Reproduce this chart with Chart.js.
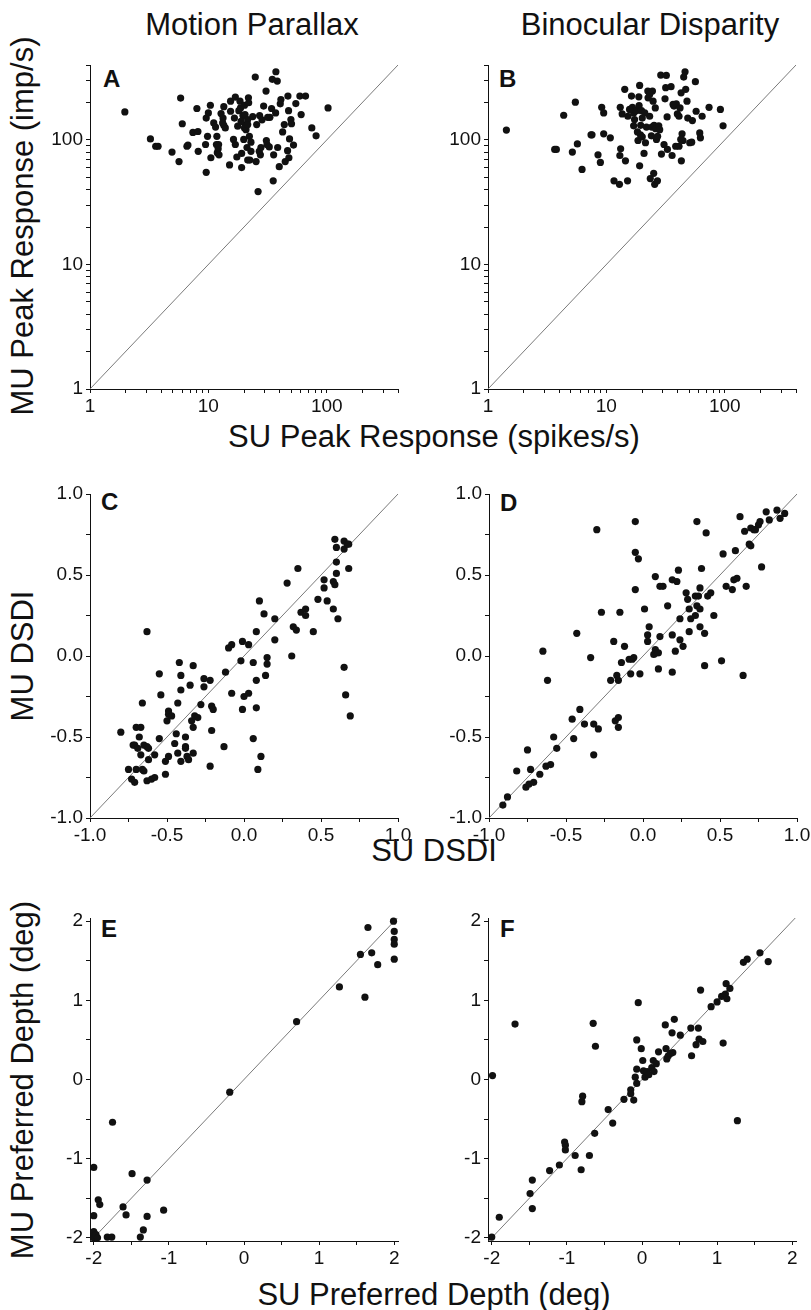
<!DOCTYPE html>
<html>
<head>
<meta charset="utf-8">
<script src="https://cdn.jsdelivr.net/npm/chart.js@4.4.0/dist/chart.umd.min.js"></script>
<style>
  body { margin: 0; background: #fff; width: 811px; height: 1310px; position: relative; overflow: hidden;
         font-family: 'Liberation Sans', Arial, Helvetica, sans-serif; color: #111; }
  canvas { position: absolute; }
  .lbl { position: absolute; white-space: nowrap; line-height: 1; font-size: 31px; transform: translate(-50%, -50%); }
  .rot { transform: translate(-50%, -50%) rotate(-90deg); }
  .letter { position: absolute; font-size: 24px; font-weight: bold; line-height: 1; }
</style>
</head>
<body>

<div class="lbl" style="left:252px;top:24px">Motion Parallax</div>
<div class="lbl" style="left:650px;top:24px">Binocular Disparity</div>

<div class="lbl rot" style="left:22px;top:226px">MU Peak Response (imp/s)</div>
<div class="lbl rot" style="left:22px;top:656px">MU DSDI</div>
<div class="lbl rot" style="left:22px;top:1080px">MU Preferred Depth (deg)</div>

<div class="lbl" style="left:434px;top:436px">SU Peak Response (spikes/s)</div>
<div class="lbl" style="left:434px;top:850px">SU DSDI</div>
<div class="lbl" style="left:434px;top:1294px">SU Preferred Depth (deg)</div>

<div class="letter" style="left:103px;top:67px">A</div>
<div class="letter" style="left:499px;top:67px">B</div>
<div class="letter" style="left:101px;top:490px">C</div>
<div class="letter" style="left:500px;top:491px">D</div>
<div class="letter" style="left:101px;top:917px">E</div>
<div class="letter" style="left:500px;top:917px">F</div>

<script>
/* ── Data: [SU, MU] pairs ── */

// A – motion parallax, peak response
const mpPeak = [
  [1.97,168],[3.24,102],[3.59,89],[3.76,89],[4.93,80],[5.65,67],[5.83,217],[6.02,135],[6.59,89],[6.72,91],
  [7.4,115],[8.0,179],[8.16,117],[8.21,81],[9.47,92],[9.59,55],[9.84,107],[9.59,150],[10.4,190],[10.5,72],
  [10.0,165],[11.1,137],[11.5,127],[11.7,92],[11.8,107],[11.9,79],[12.1,85],[12.2,92],[12.8,163],[13.3,150],
  [13.5,185],[13.5,131],[13.9,125],[15.1,63],[15.4,205],[15.4,170],[16.3,101],[16.6,150],[16.9,221],[16.9,92],
  [17.4,73],[17.7,129],[18.1,172],[18.5,205],[18.7,181],[19.1,78],[19.1,60],[19.6,157],[19.9,101],[20.2,190],
  [20.4,160],[20.5,132],[20.8,121],[21.2,87],[21.5,69],[21.5,146],[21.8,218],[21.9,199],[22.2,107],[22.4,69],
  [22.9,96],[23.7,154],[24.9,320],[25.3,67],[25.6,133],[26.3,38.5],[27.1,157],[27.5,76],[27.8,87],[28.4,145],
  [29.3,187],[30.7,247],[30.9,99],[31.3,92],[32.7,88],[33.1,152],[34.2,179],[34.7,307],[35.3,47],[35.6,76],
  [37.0,165],[37.2,353],[38.2,297],[38.5,87],[39.7,61],[40.5,195],[41.0,211],[42.4,116],[43.8,133],[44.6,67],
  [46.7,82],[47.0,225],[47.6,172],[47.9,72],[48.5,102],[49.8,146],[50.4,135],[52.4,91],[54.8,196],[59.3,225],
  [60.8,160],[66.2,225],[74.8,125],[81.3,108],[102.6,181],[18.9,141],[20.8,129],[12.3,76],[13.2,137],[22.9,81],
  [20.2,125],[21.5,133],[26.9,81],[31.7,152]
];

// B – binocular disparity, peak response
const bdPeak = [
  [1.43,120],[3.66,84],[3.78,84],[4.36,158],[5.16,80],[5.47,201],[5.69,93],[6.23,58],[7.42,110],[7.56,110],
  [8.5,76],[8.9,66],[9.13,183],[9.49,165],[9.49,112],[10.8,104],[11.6,47],[12.9,44],[13.1,183],[13.2,85],
  [13.0,75],[13.6,162],[14.3,255],[14.5,68],[15.1,47],[15.2,155],[16.3,225],[16.6,183],[17.0,165],[17.0,130],
  [17.9,172],[18.3,116],[18.5,99],[18.8,222],[18.9,189],[19.1,274],[19.1,62],[19.4,110],[19.5,131],[19.8,172],
  [20.1,150],[20.1,106],[20.8,78],[21.4,95],[21.8,127],[22.4,247],[22.5,218],[23.2,155],[23.5,49],[24.0,108],
  [24.2,127],[24.5,247],[24.8,205],[25.1,54],[25.3,131],[25.6,44],[25.9,181],[26.1,123],[26.5,101],[27.0,47],
  [27.1,107],[27.7,130],[28.8,332],[29.2,77],[30.7,92],[31.3,214],[31.7,263],[32.1,330],[32.6,153],[32.8,84],
  [35.2,268],[35.9,75],[37.3,187],[38.5,89],[39.0,195],[39.8,162],[41.1,89],[41.9,181],[42.8,239],[43.0,68],
  [43.6,112],[44.4,99],[45.0,320],[46.2,353],[46.8,255],[48.0,205],[48.7,150],[50.6,95],[52.6,96],[53.3,143],
  [56.5,294],[57.3,170],[61.5,114],[62.3,104],[64.4,155],[73.7,183],[91.9,176],[96.8,130],[41.1,155],[15.7,176],
  [17.3,146],[23.2,232],[28.2,121],[21.1,165],[42.5,101],[36.6,193]
];

// C – motion parallax, DSDI
const mpDsdi = [
  [-0.80,-0.47],[-0.75,-0.70],[-0.73,-0.76],[-0.71,-0.78],[-0.72,-0.55],[-0.71,-0.55],[-0.70,-0.70],[-0.70,-0.44],
  [-0.68,-0.50],[-0.69,-0.57],[-0.67,-0.44],[-0.67,-0.61],[-0.66,-0.70],[-0.65,-0.71],[-0.66,-0.29],[-0.65,-0.55],
  [-0.63,-0.56],[-0.62,-0.57],[-0.63,0.15],[-0.63,-0.77],[-0.62,-0.64],[-0.60,-0.76],[-0.58,-0.61],[-0.58,-0.75],
  [-0.55,-0.51],[-0.55,-0.11],[-0.54,-0.24],[-0.51,-0.73],[-0.51,-0.65],[-0.50,-0.40],[-0.49,-0.34],[-0.49,-0.62],
  [-0.49,-0.36],[-0.47,-0.37],[-0.45,-0.54],[-0.44,-0.48],[-0.43,-0.29],[-0.43,-0.60],[-0.42,-0.04],[-0.41,-0.21],
  [-0.41,-0.12],[-0.41,-0.65],[-0.38,-0.56],[-0.38,-0.50],[-0.38,-0.57],[-0.37,-0.62],[-0.36,-0.64],[-0.35,-0.18],
  [-0.34,-0.40],[-0.33,-0.44],[-0.33,-0.06],[-0.33,-0.60],[-0.32,-0.37],[-0.30,-0.38],[-0.28,-0.30],[-0.26,-0.19],
  [-0.26,-0.14],[-0.22,-0.68],[-0.22,-0.15],[-0.21,-0.46],[-0.21,-0.31],[-0.20,-0.33],[-0.13,-0.56],[-0.12,-0.10],
  [-0.10,0.05],[-0.08,0.07],[-0.08,-0.23],[-0.02,-0.03],[-0.01,0.09],[-0.01,-0.33],[0.00,-0.25],[0.03,0.07],
  [0.03,-0.23],[0.06,-0.51],[0.06,-0.04],[0.08,-0.32],[0.08,0.15],[0.08,-0.15],[0.09,-0.70],[0.10,0.34],
  [0.11,-0.62],[0.13,0.26],[0.14,-0.12],[0.15,-0.01],[0.15,-0.05],[0.20,0.23],[0.20,0.10],[0.28,0.45],
  [0.31,0.00],[0.32,0.18],[0.34,0.16],[0.35,0.54],[0.37,0.27],[0.40,0.29],[0.40,0.25],[0.45,0.15],
  [0.48,0.35],[0.52,0.47],[0.52,0.42],[0.54,0.34],[0.58,0.29],[0.58,0.46],[0.59,0.44],[0.59,0.72],
  [0.60,0.58],[0.60,0.51],[0.60,0.67],[0.61,0.23],[0.65,-0.07],[0.65,0.71],[0.65,0.66],[0.66,-0.24],
  [0.67,0.69],[0.68,0.54],[0.68,0.69],[0.69,-0.37]
];

// D – binocular disparity, DSDI
const bdDsdi = [
  [-0.91,-0.92],[-0.88,-0.87],[-0.82,-0.71],[-0.76,-0.81],[-0.75,-0.58],[-0.74,-0.79],[-0.73,-0.70],[-0.71,-0.78],
  [-0.67,-0.73],[-0.65,0.03],[-0.63,-0.68],[-0.62,-0.15],[-0.60,-0.67],[-0.58,-0.50],[-0.56,-0.57],[-0.46,-0.39],
  [-0.45,-0.51],[-0.43,0.14],[-0.41,-0.33],[-0.38,-0.42],[-0.34,-0.01],[-0.32,-0.61],[-0.32,-0.42],[-0.30,0.78],
  [-0.29,-0.45],[-0.27,0.27],[-0.21,-0.15],[-0.19,0.09],[-0.18,-0.40],[-0.17,-0.12],[-0.16,-0.38],[-0.16,-0.44],
  [-0.16,-0.15],[-0.15,0.27],[-0.14,-0.04],[-0.12,0.06],[-0.08,-0.11],[-0.09,-0.02],[-0.07,-0.02],[-0.06,-0.01],
  [-0.05,0.41],[-0.05,0.64],[-0.05,0.83],[-0.03,0.60],[-0.02,-0.11],[0.01,0.29],[0.03,0.09],[0.03,0.13],
  [0.04,0.18],[0.07,0.01],[0.08,0.49],[0.08,0.04],[0.09,0.02],[0.10,0.02],[0.10,-0.08],[0.11,0.43],
  [0.11,0.12],[0.13,0.43],[0.16,0.31],[0.19,-0.10],[0.19,0.47],[0.19,0.13],[0.21,0.03],[0.22,0.46],
  [0.23,0.53],[0.24,0.10],[0.24,0.23],[0.26,0.06],[0.28,0.39],[0.29,0.35],[0.30,0.15],[0.30,0.29],
  [0.31,0.23],[0.34,0.37],[0.34,0.25],[0.35,0.83],[0.35,0.31],[0.36,0.37],[0.37,0.29],[0.37,0.42],
  [0.37,0.18],[0.38,0.54],[0.40,-0.06],[0.40,0.14],[0.41,0.76],[0.42,0.37],[0.44,0.39],[0.46,0.25],
  [0.51,-0.03],[0.52,0.63],[0.54,0.43],[0.58,0.41],[0.59,0.47],[0.60,0.65],[0.61,0.48],[0.63,0.86],
  [0.65,-0.12],[0.66,0.77],[0.67,0.43],[0.69,0.69],[0.70,0.68],[0.70,0.79],[0.72,0.78],[0.73,0.78],
  [0.75,0.81],[0.76,0.83],[0.77,0.55],[0.80,0.89],[0.82,0.84],[0.87,0.90],[0.89,0.85],[0.92,0.88]
];

// E – motion parallax, preferred depth
const mpDepth = [
  [-2.0,-1.11],[-2.0,-1.72],[-2.0,-1.92],[-2.0,-1.98],[-2.0,-2.0],[-1.97,-1.96],[-1.95,-2.0],[-1.94,-1.52],
  [-1.92,-1.58],[-1.82,-1.99],[-1.76,-1.99],[-1.75,-0.54],[-1.61,-1.61],[-1.57,-1.71],[-1.49,-1.19],[-1.38,-1.99],
  [-1.34,-1.90],[-1.29,-1.27],[-1.29,-1.73],[-1.07,-1.65],[-0.19,-0.16],[0.70,0.73],[1.27,1.17],[1.55,1.58],
  [1.61,1.04],[1.65,1.92],[1.70,1.60],[1.78,1.45],[1.99,2.0],[2.0,1.87],[2.0,1.77],[2.0,1.71],[2.0,1.52]
];

// F – binocular disparity, preferred depth
const bdDepth = [
  [-2.0,-1.99],[-1.99,0.05],[-1.90,-1.74],[-1.69,0.70],[-1.49,-1.44],[-1.46,-1.63],[-1.46,-1.27],[-1.23,-1.15],
  [-1.10,-1.08],[-1.03,-0.79],[-1.02,-0.83],[-1.02,-0.89],[-0.89,-0.96],[-0.81,-1.14],[-0.80,-0.28],[-0.79,-0.21],
  [-0.70,-0.96],[-0.65,0.71],[-0.63,-0.68],[-0.62,0.42],[-0.45,-0.38],[-0.39,-0.55],[-0.24,-0.25],[-0.15,-0.13],
  [-0.15,-0.18],[-0.11,-0.26],[-0.09,0.03],[-0.07,0.50],[-0.07,0.13],[-0.07,-0.05],[-0.05,0.97],[-0.01,0.39],
  [0.01,0.24],[0.02,0.11],[0.04,0.03],[0.07,0.10],[0.13,0.15],[0.15,0.24],[0.16,0.10],[0.19,0.20],
  [0.22,0.35],[0.31,0.69],[0.32,0.39],[0.33,0.26],[0.35,0.30],[0.38,0.33],[0.40,0.59],[0.41,0.34],
  [0.43,0.76],[0.51,0.56],[0.65,0.65],[0.66,0.30],[0.72,0.44],[0.75,0.65],[0.76,0.51],[0.78,1.13],
  [0.81,0.48],[0.92,0.92],[1.00,0.98],[1.06,1.05],[1.08,0.46],[1.11,1.08],[1.12,1.21],[1.13,1.02],
  [1.17,1.15],[1.27,-0.52],[1.35,1.48],[1.40,1.52],[1.57,1.60],[1.68,1.49],[0.09,0.06]
];

// Ticks and labels
const logTicks = [1,2,3,4,5,6,7,8,9,10,20,30,40,50,60,70,80,90,100,200,300,400];
const logLabels = [1, 10, 100];
const dsdiTicks = [-1,-0.75,-0.5,-0.25,0,0.25,0.5,0.75,1];
const dsdiLabels = [-1, -0.5, 0, 0.5, 1];
const depthTicks = [-2,-1.5,-1,-0.5,0,0.5,1,1.5,2];
const depthLabels = [-2, -1, 0, 1, 2];

// Unity line ends
const unityLog = [1, 400];
const unityDsdi = [-1, 1];
const unityDepth = [-2.04, 2.04];

/* ── Layout ── */
const FONT = "'Liberation Sans', Arial, Helvetica, sans-serif";
const Y_W = 60, X_H = 40, PAD_T = 16, PAD_R = 26;

const kinds = {
  log:   { type: 'logarithmic', x: [1, 400], y: [1, 400], ticks: logTicks, labels: logLabels, fmt: v => String(v), unity: unityLog },
  dsdi:  { type: 'linear', x: [-1, 1], y: [-1, 1], ticks: dsdiTicks, labels: dsdiLabels, fmt: v => v.toFixed(1), unity: unityDsdi },
  depth: { type: 'linear', x: [-2.05, 2.05], y: [-2.04, 2.04], ticks: depthTicks, labels: depthLabels, fmt: v => String(v), unity: unityDepth }
};

// chart area [left, top, right, bottom] in page pixels
const panels = [
  { area: [90, 65, 398, 389],   kind: 'log',   pts: mpPeak },
  { area: [488, 65, 796, 389],  kind: 'log',   pts: bdPeak },
  { area: [90, 494, 398, 818],  kind: 'dsdi',  pts: mpDsdi },
  { area: [489, 494, 797, 818], kind: 'dsdi',  pts: bdDsdi },
  { area: [90, 918, 398, 1241], kind: 'depth', pts: mpDepth },
  { area: [488, 918, 796, 1241], kind: 'depth', pts: bdDepth }
];

function makeAxis(k, isY) {
  const range = isY ? k.y : k.x;
  return {
    type: k.type,
    position: isY ? 'left' : 'bottom',
    min: range[0],
    max: range[1],
    afterBuildTicks: s => { s.ticks = k.ticks.map(v => ({ value: v })); },
    afterFit: s => {
      if (isY) { s.width = Y_W; s.paddingTop = 0; s.paddingBottom = 0; }
      else { s.height = X_H; s.paddingLeft = 0; s.paddingRight = 0; }
    },
    grid: { drawOnChartArea: false, drawTicks: true, tickLength: 4, tickColor: '#111', tickWidth: 1 },
    border: { display: true, color: '#111', width: 1 },
    ticks: {
      autoSkip: false, maxRotation: 0, minRotation: 0, padding: isY ? 3 : 2,
      color: '#111', font: { family: FONT, size: 19 },
      callback: v => k.labels.includes(v) ? k.fmt(v) : ''
    }
  };
}

function renderPanel(p) {
  const k = kinds[p.kind];
  const [l, t, r, b] = p.area;
  const cv = document.createElement('canvas');
  const w = (r - l) + Y_W + PAD_R;
  const h = (b - t) + PAD_T + X_H;
  cv.width = w; cv.height = h;
  cv.style.left = (l - Y_W) + 'px';
  cv.style.top = (t - PAD_T) + 'px';
  cv.style.width = w + 'px';
  cv.style.height = h + 'px';
  document.body.appendChild(cv);

  new Chart(cv, {
    type: 'scatter',
    data: {
      datasets: [
        { data: p.pts.map(([x, y]) => ({ x, y })), pointRadius: 3.6, pointHoverRadius: 3.6,
          pointBackgroundColor: '#111', pointBorderWidth: 0, clip: false },
        { data: k.unity.map(v => ({ x: v, y: v })), showLine: true, borderColor: '#7a7a7a',
          borderWidth: 1, pointRadius: 0 }
      ]
    },
    options: {
      responsive: false,
      animation: false,
      devicePixelRatio: 1,
      layout: { padding: { top: PAD_T, right: PAD_R, left: 0, bottom: 0 } },
      plugins: { legend: { display: false }, tooltip: { enabled: false } },
      scales: { x: makeAxis(k, false), y: makeAxis(k, true) }
    }
  });
}

panels.forEach(renderPanel);
</script>
</body>
</html>
